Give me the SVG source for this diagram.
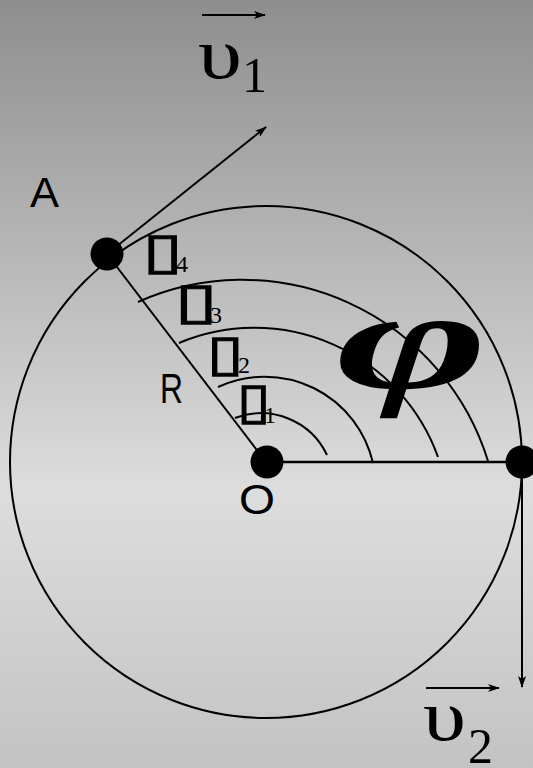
<svg xmlns="http://www.w3.org/2000/svg" width="533" height="768" viewBox="0 0 533 768">
<defs>
<linearGradient id="bg" x1="0" y1="0" x2="0" y2="1">
<stop offset="0" stop-color="#8e8e8e"/>
<stop offset="0.64" stop-color="#dddddd"/>
<stop offset="1" stop-color="#c3c3c3"/>
</linearGradient>
<marker id="ah" viewBox="0 0 12 8" refX="11" refY="4" markerWidth="12" markerHeight="8" markerUnits="userSpaceOnUse" orient="auto">
<path d="M0,0 L12,4 L0,8 L3,4 z" fill="#000"/>
</marker>
<style>
.ln{fill:none;stroke:#000;stroke-width:2}
.dot{fill:#000}
.lbl{font-family:"Liberation Sans",Arial,sans-serif;font-size:42px;fill:#000}
.gr{font-family:"Liberation Serif","Times New Roman",serif;fill:#000}
.tofu{font-family:"DejaVu Sans",sans-serif;font-size:50px;fill:#000;stroke:#000;stroke-width:1.2}
.sub{font-family:"Liberation Serif","Times New Roman",serif;font-size:24px;fill:#000;stroke:none}
</style>
</defs>
<rect x="0" y="0" width="533" height="768" fill="url(#bg)"/>
<g id="connectors">
<circle class="ln" cx="266" cy="462" r="256"/>
<line class="ln" x1="107" y1="254" x2="266" y2="462"/>
<line class="ln" x1="266" y1="462" x2="522" y2="462" style="stroke-width:2.5"/>
<line class="ln" x1="107" y1="254" x2="266" y2="127" marker-end="url(#ah)"/>
<line class="ln" x1="522" y1="462" x2="522" y2="687" marker-end="url(#ah)"/>
<line class="ln" x1="202" y1="15" x2="265" y2="15" marker-end="url(#ah)"/>
<line class="ln" x1="426" y1="688" x2="499" y2="688" marker-end="url(#ah)"/>
<path class="ln" d="M235,418 A73,73 0 0 1 327,455"/>
<path class="ln" d="M218,387 A111,111 0 0 1 373,463"/>
<path class="ln" d="M179,343 A195,195 0 0 1 438,457"/>
<path class="ln" d="M138,302 A257,257 0 0 1 488,461"/>
</g>
<g id="nodeA">
<circle class="dot" cx="107" cy="254" r="16.5"/>
<text class="lbl" x="30" y="207" textLength="29" lengthAdjust="spacingAndGlyphs">A</text>
</g>
<g id="nodeO">
<circle class="dot" cx="267" cy="462" r="16.5"/>
<text class="lbl" x="239" y="514" textLength="36" lengthAdjust="spacingAndGlyphs">O</text>
</g>
<g id="nodeB">
<circle class="dot" cx="522" cy="462" r="16.5"/>
</g>
<g id="labelR">
<text class="lbl" x="160" y="403" textLength="23" lengthAdjust="spacingAndGlyphs">R</text>
</g>
<g id="angles">
<text class="tofu" x="143" y="268"><tspan textLength="40" lengthAdjust="spacingAndGlyphs">▯</tspan><tspan class="sub" x="176" y="272">4</tspan></text>
<text class="tofu" x="175" y="318"><tspan textLength="43" lengthAdjust="spacingAndGlyphs">▯</tspan><tspan class="sub" x="210" y="323">3</tspan></text>
<text class="tofu" x="207" y="370"><tspan textLength="37" lengthAdjust="spacingAndGlyphs">▯</tspan><tspan class="sub" x="238" y="373">2</tspan></text>
<text class="tofu" x="237" y="418"><tspan textLength="34" lengthAdjust="spacingAndGlyphs">▯</tspan><tspan class="sub" x="264" y="423">1</tspan></text>
</g>
<g id="phi">
<text class="gr" x="336" y="388" font-size="142" font-weight="bold" font-style="italic" textLength="152" lengthAdjust="spacingAndGlyphs">φ</text>
</g>
<g id="v1">
<text class="gr" x="198" y="78" font-size="72"><tspan textLength="44" lengthAdjust="spacingAndGlyphs">υ</tspan><tspan x="242" y="92" font-size="50">1</tspan></text>
</g>
<g id="v2">
<text class="gr" x="423" y="740" font-size="72"><tspan textLength="43" lengthAdjust="spacingAndGlyphs">υ</tspan><tspan x="468" y="763" font-size="50">2</tspan></text>
</g>
</svg>
